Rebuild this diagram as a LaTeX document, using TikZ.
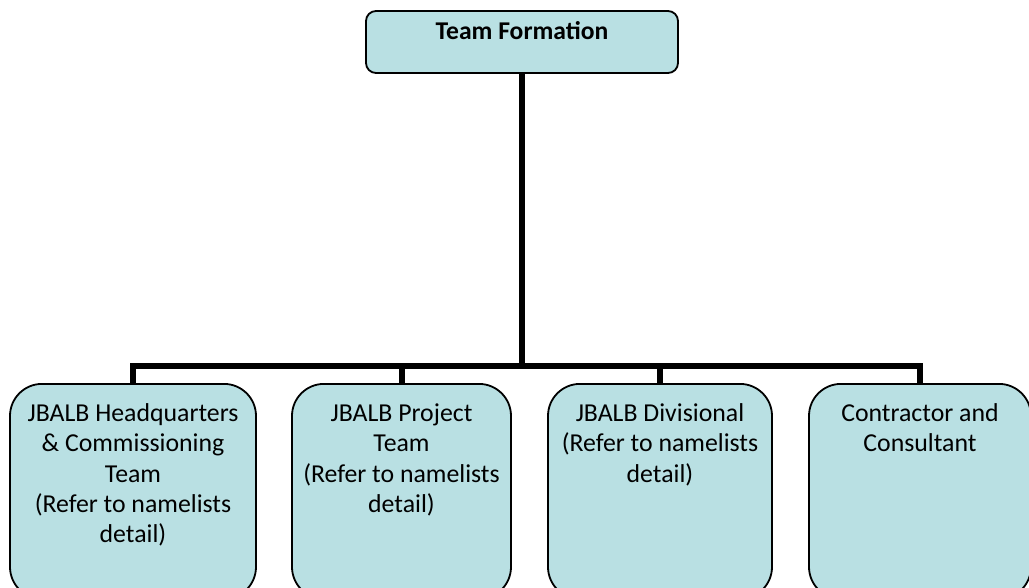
\documentclass[tikz,border=0pt]{standalone}
\usepackage{fontspec}
\setmainfont{Carlito}
\definecolor{boxfill}{HTML}{B9E0E3}
\begin{document}
\begin{tikzpicture}[x=1pt,y=-1pt,
  topbox/.style={draw=black,line width=1.8pt,fill=boxfill,rounded corners=10pt,minimum width=312pt,minimum height=62pt,inner sep=0pt},
  subbox/.style={draw=black,line width=1.8pt,fill=boxfill,rounded corners=32pt,minimum height=215pt,inner sep=0pt,anchor=north},
  boxtext/.style={anchor=north,align=center,font=\fontsize{25.8}{30.3}\selectfont,inner sep=0pt,yshift=-20.5pt},
  conn/.style={line width=6pt}]
\useasboundingbox (0,0) rectangle (1029,587);
\clip (0,0) rectangle (1029,587);
\fill[white] (0,0) rectangle (1029,587);
% top
\node[topbox] (top) at (522,42) {};
\node[anchor=north,font=\fontsize{25.6}{30}\selectfont\bfseries,inner sep=0pt] (toptext) at (522,21) {Team Formation};
% bottom boxes
\node[subbox,minimum width=246pt] (b1) at (133,383) {};
\node[subbox,minimum width=219pt] (b2) at (401.5,383) {};
\node[subbox,minimum width=224pt] (b3) at (660,383) {};
\node[subbox,minimum width=222pt] (b4) at (920,383) {};
\node[boxtext] (t1) at (b1.north) {JBALB Headquarters\\\& Commissioning\\Team\\(Refer to namelists\\detail)};
\node[boxtext] (t2) at (b2.north) {JBALB Project\\Team\\(Refer to namelists\\detail)};
\node[boxtext] (t3) at (b3.north) {JBALB Divisional\\(Refer to namelists\\detail)};
\node[boxtext] (t4) at (b4.north) {Contractor and\\Consultant};
% connectors
\coordinate (bar) at (522,366);
\draw[conn] (top.south) -- (bar);
\draw[conn,line join=miter] (b1.north) |- (b4.north |- bar) -- (b4.north);
\draw[conn] (b2.north) -- (b2.north |- bar);
\draw[conn] (b3.north) -- (b3.north |- bar);
\end{tikzpicture}
\end{document}
